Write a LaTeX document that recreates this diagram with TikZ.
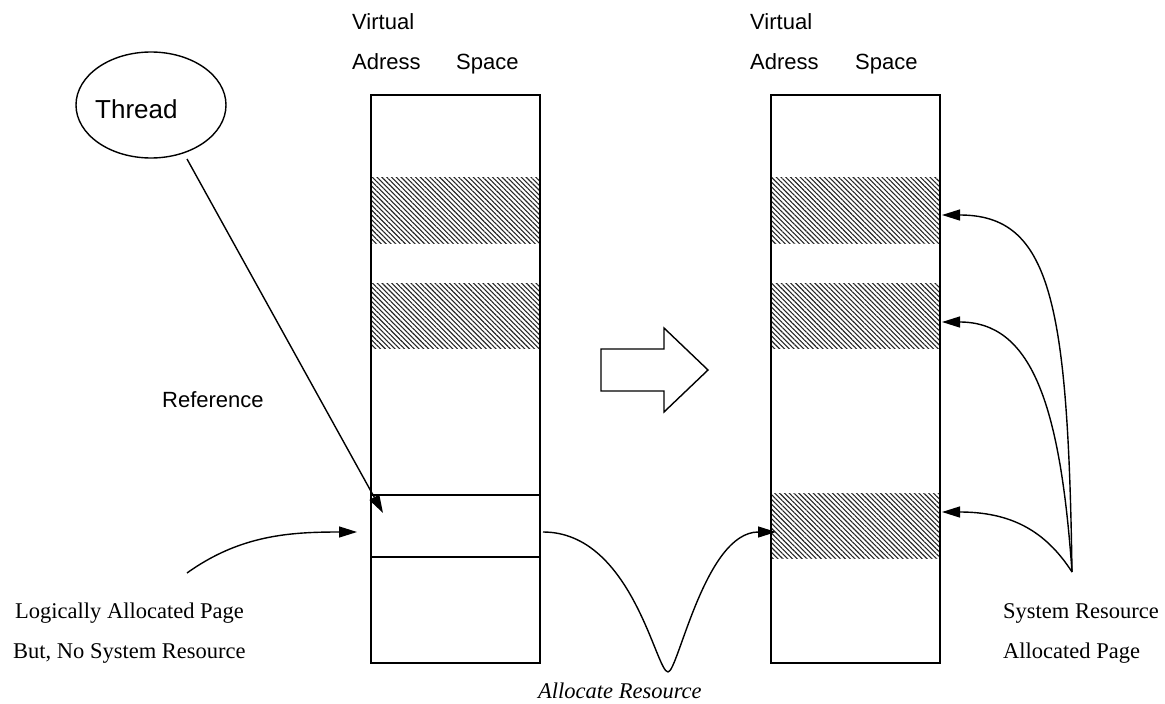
\documentclass[tikz,border=0pt]{standalone}
\usepackage{fontspec}
\setmainfont{Liberation Serif}
\newfontfamily\labelsans{Liberation Sans}
\usetikzlibrary{arrows.meta,shapes.geometric,patterns.meta}

\tikzset{
  column/.style={draw, line width=1.5pt, inner sep=0pt, minimum width=169pt, minimum height=568pt},
  band/.style={pattern={Lines[angle=-45,distance=3.4pt,line width=1.1pt]}, pattern color=black!85},
  sanslabel/.style={anchor=base west, inner sep=0pt, font=\labelsans\fontsize{22}{24}\selectfont},
  seriflabel/.style={anchor=base west, inner sep=0pt, font=\fontsize{22.5}{25}\selectfont},
  link/.style={line width=1.4pt, -{Triangle[length=18pt,width=11pt]}},
  plain/.style={line width=1.4pt}
}

\begin{document}
\begin{tikzpicture}[x=1pt,y=-1pt]
\useasboundingbox (0,0) rectangle (1165,704);

% hatched (resident) pages, drawn under the column outlines
\fill[band] (371,177) rectangle (540,243);
\fill[band] (371,283) rectangle (540,348);
\fill[band] (771,177) rectangle (940,243);
\fill[band] (771,283) rectangle (940,348);
\fill[band] (771,493) rectangle (940,558);

% the two virtual address spaces
\node[column] (lcol) at (455.5,379) {};
\node[column] (rcol) at (855.5,379) {};
\draw[plain] (lcol.west |- 0,495) -- (lcol.east |- 0,495);
\draw[plain] (lcol.west |- 0,557) -- (lcol.east |- 0,557);

% headings
\node[sanslabel] (lvirt) at (352,29) {Virtual};
\node[sanslabel] (ladr) at (352,69) {Adress};
\node[sanslabel] (lspc) at (456,69) {Space};
\node[sanslabel] (rvirt) at (750,29) {Virtual};
\node[sanslabel] (radr) at (750,69) {Adress};
\node[sanslabel] (rspc) at (855,69) {Space};

% thread
\node[draw, ellipse, line width=1.4pt, minimum width=150pt, minimum height=106pt] (thread) at (151,105) {};
\node[sanslabel, font=\labelsans\fontsize{26}{28}\selectfont] (threadtext) at (95,118) {Thread};
\node[sanslabel] (reftext) at (162,407) {Reference};

% block arrow between the two states
\draw[line width=1.4pt] (601,349) -- (664,349) -- (664,328) -- (708,370)
  -- (664,412) -- (664,391) -- (601,391) -- cycle;

% connector end points
\coordinate (threadfoot) at (187,159);
\coordinate (slottop) at (383,513);
\coordinate (logsrc) at (187,573);
\coordinate (slotin) at (357,532);
\coordinate (slotout) at (543,532);
\coordinate (dip) at (668,672);
\coordinate (pagein) at (776,532);
\coordinate (syssrc) at (1072,572);
\coordinate (page1) at (942,215);
\coordinate (page2) at (942,322);
\coordinate (page3) at (942,512);

% connectors
\draw[link] (threadfoot) -- (slottop);
\draw[link] (logsrc) .. controls (240,535) and (290,532) .. (slotin);
\draw[plain] (slotout) .. controls (632,532) and (656,672) .. (dip);
\draw[link] (dip) .. controls (678,672) and (705,532) .. (pagein);
\draw[link] (syssrc) .. controls (1068,300) and (1050,215) .. (page1);
\draw[link] (syssrc) .. controls (1060,400) and (1030,322) .. (page2);
\draw[link] (syssrc) .. controls (1045,530) and (1010,512) .. (page3);

% captions
\node[seriflabel] (logl1) at (15,618) {Logically Allocated Page};
\node[seriflabel] (logl2) at (13,658) {But, No System Resource};
\node[seriflabel] (sysl1) at (1003,618) {System Resource};
\node[seriflabel] (sysl2) at (1003,658) {Allocated Page};
\node[seriflabel, font=\itshape\fontsize{22.5}{25}\selectfont] (alloc) at (538,698) {Allocate Resource};
\end{tikzpicture}
\end{document}
